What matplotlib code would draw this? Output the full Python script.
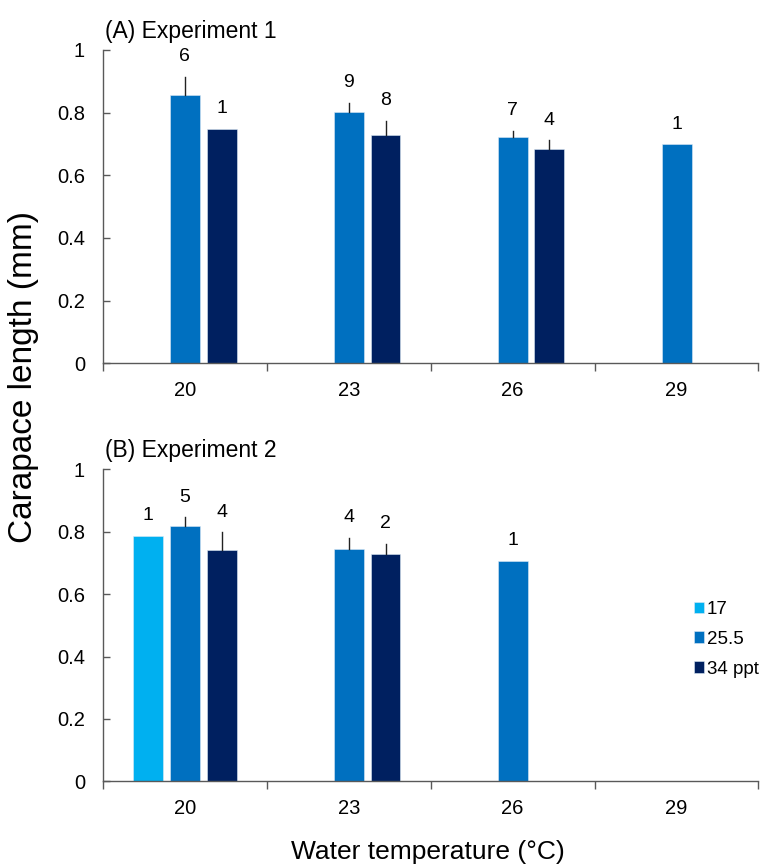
import numpy as np
import matplotlib.pyplot as plt

plt.rcParams['font.family'] = ['Liberation Sans', 'DejaVu Sans']

# water temperature categories
temps = ['20', '23', '26', '29']
salinity = ['17', '25.5', '34 ppt']
colors = ['#00B0F0', '#0070C0', '#002060']

# Experiment 1 (no 17 ppt animals)
exp1_s17 = [np.nan, np.nan, np.nan, np.nan]
exp1_s17_err = [0, 0, 0, 0]
exp1_s17_n = [None, None, None, None]
exp1_s255 = [0.856, 0.801, 0.723, 0.699]
exp1_s255_err = [0.058, 0.030, 0.019, 0]
exp1_s255_n = [6, 9, 7, 1]
exp1_s34 = [0.748, 0.728, 0.685, np.nan]
exp1_s34_err = [0, 0.046, 0.027, 0]
exp1_s34_n = [1, 8, 4, None]

# Experiment 2
exp2_s17 = [0.786, np.nan, np.nan, np.nan]
exp2_s17_err = [0, 0, 0, 0]
exp2_s17_n = [1, None, None, None]
exp2_s255 = [0.819, 0.745, 0.707, np.nan]
exp2_s255_err = [0.027, 0.036, 0, 0]
exp2_s255_n = [5, 4, 1, None]
exp2_s34 = [0.740, 0.729, np.nan, np.nan]
exp2_s34_err = [0.058, 0.033, 0, 0]
exp2_s34_n = [4, 2, None, None]

fig = plt.figure(figsize=(7.6, 8.68), dpi=100)
axA = fig.add_axes([0.1355, 0.5814, 0.8625, 0.3611])
axB = fig.add_axes([0.1355, 0.0999, 0.8625, 0.3594])

x = np.arange(len(temps))
offs = [-0.224, 0, 0.224]
width = 0.183


def draw(ax, series, errs, ns, title):
    for i in range(3):
        vals = np.array(series[i], dtype=float)
        ax.bar(x + offs[i], vals, width, color=colors[i], label=salinity[i],
               edgecolor='#dce9f5', linewidth=0.4, zorder=2)
        for j in range(len(temps)):
            if np.isnan(vals[j]):
                continue
            top = vals[j] + errs[i][j]
            if errs[i][j] > 0:
                ax.plot([x[j] + offs[i]] * 2, [vals[j], top], color='#222222',
                        lw=1.0, zorder=3)
            if ns[i][j] is not None:
                ax.annotate(str(ns[i][j]), (x[j] + offs[i], top),
                            xytext=(0, 14.5), textcoords='offset points',
                            ha='center', va='center', fontsize=14)
    ax.set_xlim(-0.5, 3.5)
    ax.set_ylim(0, 1)
    ax.set_yticks([0, 0.2, 0.4, 0.6, 0.8, 1])
    ax.set_yticklabels(['0', '0.2', '0.4', '0.6', '0.8', '1'])
    ax.set_xticks(x)
    ax.set_xticklabels(temps)
    ax.set_xticks(np.arange(-0.5, 4.0, 1), minor=True)
    ax.tick_params(axis='x', which='major', length=0, pad=12.5, labelsize=14.5)
    ax.tick_params(axis='x', which='minor', length=6, direction='out',
                   color='#595959', width=1)
    ax.tick_params(axis='y', length=5, direction='in', pad=13,
                   color='#595959', width=1, labelsize=14.5)
    for s in ['top', 'right']:
        ax.spines[s].set_visible(False)
    for s in ['left', 'bottom']:
        ax.spines[s].set_color('#595959')
        ax.spines[s].set_linewidth(1)
    ax.text(0.003, 1.06, title, transform=ax.transAxes, fontsize=16.5,
            ha='left', va='center')


draw(axA, [exp1_s17, exp1_s255, exp1_s34],
     [exp1_s17_err, exp1_s255_err, exp1_s34_err],
     [exp1_s17_n, exp1_s255_n, exp1_s34_n], '(A) Experiment 1')
draw(axB, [exp2_s17, exp2_s255, exp2_s34],
     [exp2_s17_err, exp2_s255_err, exp2_s34_err],
     [exp2_s17_n, exp2_s255_n, exp2_s34_n], '(B) Experiment 2')

axB.legend(loc='upper left', bbox_to_anchor=(694 / 760, 1 - 601 / 868),
           bbox_transform=fig.transFigure, frameon=False, fontsize=13.5,
           handlelength=0.55, handleheight=0.55, handletextpad=0.12,
           labelspacing=0.68, borderpad=0, borderaxespad=0)

fig.text(0.031, 1 - 377 / 868, 'Carapace length (mm)', rotation=90,
         ha='center', va='center', fontsize=24)
fig.text(0.5625, 1 - 852 / 868, 'Water temperature (\u00b0C)',
         ha='center', va='center', fontsize=19)

fig.savefig('out.png', dpi=100)
